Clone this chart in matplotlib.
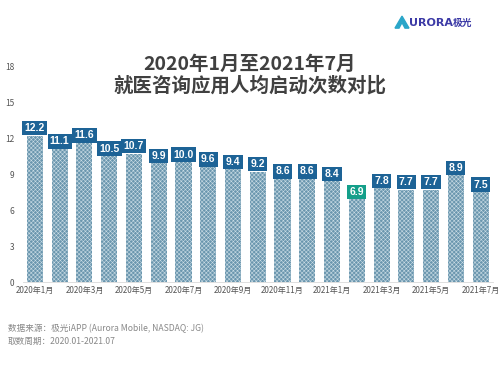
import matplotlib.pyplot as plt
import matplotlib.patches as mpatches
import numpy as np

plt.rcParams['font.family'] = ['Noto Sans CJK SC', 'DejaVu Sans']
plt.rcParams['hatch.linewidth'] = 0.4

months = ['2020年1月', '2020年2月', '2020年3月', '2020年4月', '2020年5月', '2020年6月',
          '2020年7月', '2020年8月', '2020年9月', '2020年10月', '2020年11月', '2020年12月',
          '2021年1月', '2021年2月', '2021年3月', '2021年4月', '2021年5月', '2021年6月',
          '2021年7月']
values = [12.2, 11.1, 11.6, 10.5, 10.7, 9.9, 10.0, 9.6, 9.4, 9.2, 8.6, 8.6,
          8.4, 6.9, 7.8, 7.7, 7.7, 8.9, 7.5]
lowest = 6.9

fig = plt.figure(figsize=(5, 3.75), dpi=100)
ax = fig.add_axes([0.045, 0.248, 0.941, 0.576])

x = np.arange(len(months))
ax.bar(x, values, width=0.65, color='#6a96ae', edgecolor='#c8dbe4',
       hatch='xxxxxxxx', linewidth=0)

for xi, v in zip(x, values):
    box = '#149f8a' if v == lowest else '#1d6396'
    ax.text(xi, v + 0.2, f'{v:.1f}', ha='center', va='bottom', fontsize=7.5,
            fontweight='bold', color='white', family='Liberation Sans',
            bbox=dict(boxstyle='square,pad=0.22', fc=box, ec='none'))

ax.set_xlim(-0.5, len(months) - 0.5)
ax.set_ylim(0, 18)
ax.set_yticks(range(0, 19, 3))
ax.set_xticks(x[::2])
ax.set_xticklabels(months[::2])
ax.tick_params(axis='both', length=0, labelsize=5.8, colors='#555555')
ax.tick_params(axis='y', pad=6, labelsize=6)
ax.tick_params(axis='x', pad=3)
for s in ['top', 'right', 'left']:
    ax.spines[s].set_visible(False)
ax.spines['bottom'].set_color('#d9d9d9')
ax.spines['bottom'].set_linewidth(0.6)

fig.text(0.5, 0.745, '2020年1月至2021年7月\n就医咨询应用人均启动次数对比', ha='center',
         va='bottom', fontsize=14, fontweight='bold', color='#404040',
         linespacing=1.1)

# logo
tri = mpatches.Polygon([[0.79, 0.925], [0.804, 0.957], [0.818, 0.925],
                        [0.81, 0.925], [0.804, 0.94], [0.798, 0.925]],
                       closed=True, transform=fig.transFigure, color='#2aa6c9')
fig.patches.append(tri)
fig.text(0.819, 0.94, 'URORA', ha='left', va='center', fontsize=8,
         fontweight='bold', color='#3c3aa6', family='DejaVu Sans')
fig.text(0.905, 0.94, '极光', ha='left', va='center', fontsize=7,
         fontweight='bold', color='#3c3aa6')

fig.text(0.016, 0.123, '数据来源：极光iAPP (Aurora Mobile, NASDAQ: JG)', fontsize=6.2,
         style='italic', color='#888888', va='center')
fig.text(0.016, 0.090, '取数周期：2020.01-2021.07', fontsize=6.2,
         style='italic', color='#888888', va='center')

fig.savefig('out.png', dpi=100)
